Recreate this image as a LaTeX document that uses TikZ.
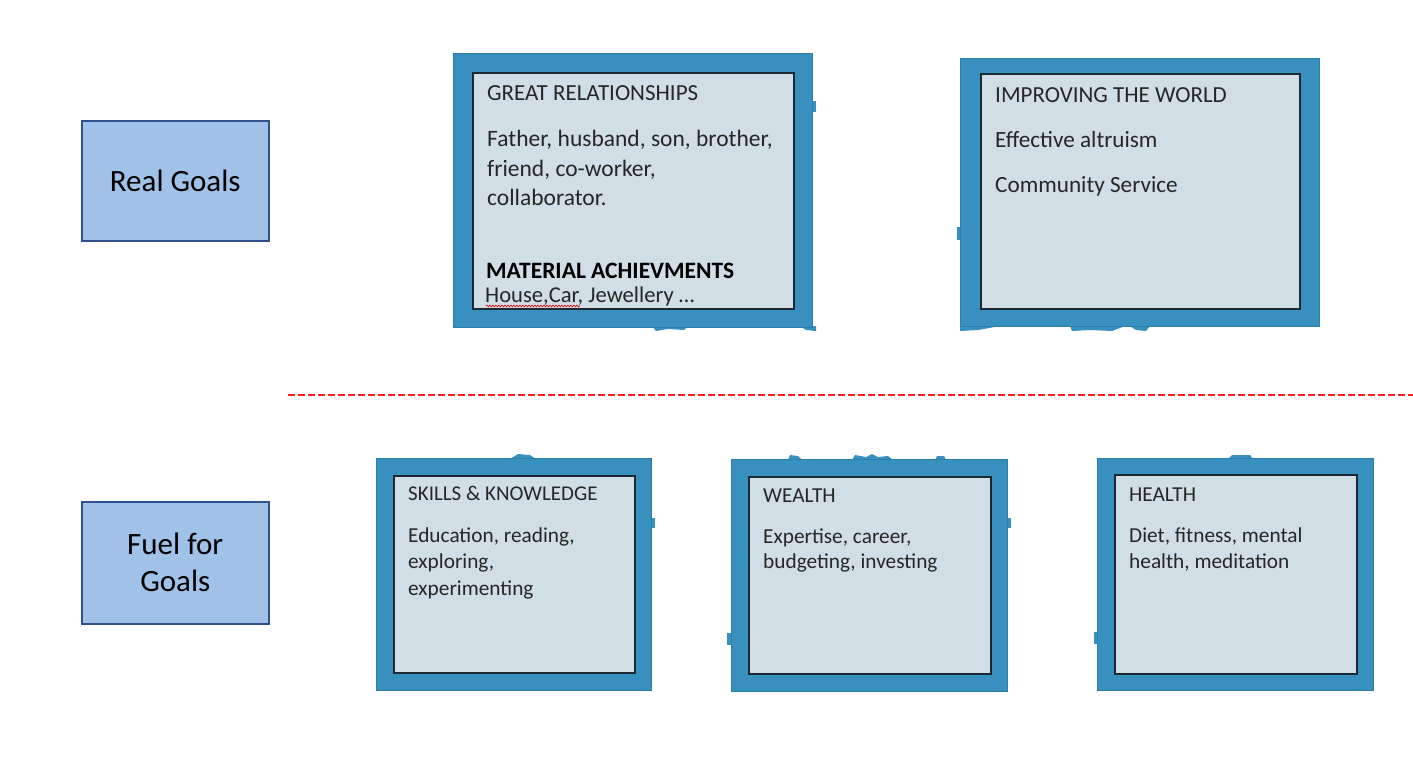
\documentclass[tikz,border=0pt]{standalone}
\usepackage{fontspec}
\setmainfont{Carlito}
\usetikzlibrary{decorations.pathmorphing}
\definecolor{frameblue}{RGB}{56,144,190}
\definecolor{frameedge}{RGB}{44,126,170}
\definecolor{panelgrey}{RGB}{210,222,230}
\definecolor{paneledge}{RGB}{28,40,52}
\definecolor{labelfill}{RGB}{160,194,232}
\definecolor{labeledge}{RGB}{47,82,143}
\definecolor{textgrey}{RGB}{38,38,38}
\definecolor{divider}{RGB}{250,30,30}
\tikzset{
  labelbox/.style={draw=labeledge, line width=1.5pt, fill=labelfill, anchor=north west,
    inner sep=0pt, align=center, font=\fontsize{31}{37}\selectfont, text=black},
  frame/.style={draw=frameedge, line width=1pt, fill=frameblue, anchor=north west, inner sep=0pt},
  panel/.style={draw=paneledge, line width=2pt, fill=panelgrey, anchor=north west, inner sep=0pt},
  stub/.style={fill=frameblue, draw=none},
  txt/.style={anchor=base west, inner sep=0pt, text=textgrey},
  bigtext/.style={txt, font=\fontsize{23.5}{28}\selectfont},
  smalltext/.style={txt, font=\fontsize{21.3}{26}\selectfont},
}
\begin{document}
\begin{tikzpicture}[x=1pt,y=-1pt]
\useasboundingbox (0,0) rectangle (1413,761);

% row labels
\node[labelbox, minimum width=187pt, minimum height=120pt] (real) at (81,120) {Real Goals};
\node[labelbox, minimum width=187pt, minimum height=122pt] (fuel) at (81,501) {Fuel for\\Goals};

% divider between goals and fuel
\draw[divider, line width=1.3pt, dash pattern=on 7pt off 3pt] (288,395) -- (1413,395);

% connector stubs peeking out from behind the frames
\fill[stub] (812,101) rectangle (816,112);
\fill[stub] (652,326) -- (688,326) -- (684,330) -- (668,329) -- (656,331) -- cycle;
\fill[stub] (800,326) -- (816,326) -- (816,331) -- (806,330) -- cycle;
\fill[stub] (957,227) rectangle (961,240);
\fill[stub] (960,326) -- (1000,326) -- (978,330) -- (960,331) -- cycle;
\fill[stub] (1070,326) -- (1150,326) -- (1146,331) -- (1136,330) -- (1128,325) -- (1112,331) -- (1090,330) -- (1072,331) -- cycle;
\fill[stub] (510,459) -- (536,459) -- (530,455) -- (518,454) -- cycle;
\fill[stub] (651,518) rectangle (655,528);
\fill[stub] (788,460) -- (802,460) -- (798,456) -- (790,455) -- cycle;
\fill[stub] (852,460) -- (893,460) -- (888,456) -- (878,457) -- (872,454) -- (866,457) -- (855,455) -- cycle;
\fill[stub] (935,460) -- (946,460) -- (944,456) -- (937,456) -- cycle;
\fill[stub] (1007,518) rectangle (1011,528);
\fill[stub] (727,633) rectangle (731,645);
\fill[stub] (1228,459) -- (1253,459) -- (1250,455) -- (1232,455) -- cycle;
\fill[stub] (1094,632) rectangle (1098,644);

% real goals
\node[frame, minimum width=359pt, minimum height=274pt] (relframe) at (453,53) {};
\node[panel, minimum width=321pt, minimum height=236pt] (rel) at (472,72) {};
\node[frame, minimum width=359pt, minimum height=268pt] (worldframe) at (960,58) {};
\node[panel, minimum width=319pt, minimum height=235pt] (world) at (980,73) {};

% fuel for goals
\node[frame, minimum width=275pt, minimum height=232pt] (skillframe) at (376,458) {};
\node[panel, minimum width=241pt, minimum height=197pt] (skill) at (393,475) {};
\node[frame, minimum width=276pt, minimum height=232pt] (wealthframe) at (731,459) {};
\node[panel, minimum width=242pt, minimum height=197pt] (wealth) at (748,476) {};
\node[frame, minimum width=276pt, minimum height=232pt] (healthframe) at (1097,458) {};
\node[panel, minimum width=242pt, minimum height=199pt] (health) at (1114,474) {};

% great relationships
\node[bigtext, font=\fontsize{23}{28}\selectfont] (relh) at (487,100) {GREAT RELATIONSHIPS};
\node[bigtext] (rel1) at (487,146) {Father, husband, son, brother,};
\node[bigtext] (rel2) at (487,176) {friend, co-worker,};
\node[bigtext] (rel3) at (487,205) {collaborator.};
\node[bigtext, font=\fontsize{23.5}{28}\selectfont\bfseries, text=black] (math) at (486,278) {MATERIAL ACHIEVMENTS};
\node[bigtext, font=\fontsize{22.6}{28}\selectfont] (matb) at (485,302) {House,Car, Jewellery \dots};
\draw[red!85!black, line width=0.6pt, decorate,
  decoration={snake, amplitude=0.9pt, segment length=3pt}]
  (matb.base west) ++(1,4) coordinate (sq1) -- ++(94,0) coordinate (sq2);

% improving the world
\node[bigtext, font=\fontsize{23}{28}\selectfont] (worldh) at (995,102) {IMPROVING THE WORLD};
\node[bigtext, font=\fontsize{23.2}{28}\selectfont] (world1) at (995,147) {Effective altruism};
\node[bigtext, font=\fontsize{23.2}{28}\selectfont] (world2) at (995,192) {Community Service};

% skills and knowledge
\node[smalltext, font=\fontsize{21}{26}\selectfont] (skillh) at (408,500) {SKILLS \& KNOWLEDGE};
\node[smalltext] (skill1) at (408,542) {Education, reading,};
\node[smalltext] (skill2) at (408,568) {exploring,};
\node[smalltext] (skill3) at (408,595) {experimenting};

% wealth
\node[smalltext] (wealthh) at (763,502) {WEALTH};
\node[smalltext] (wealth1) at (763,543) {Expertise, career,};
\node[smalltext] (wealth2) at (763,568) {budgeting, investing};

% health
\node[smalltext] (healthh) at (1129,501) {HEALTH};
\node[smalltext] (health1) at (1129,542) {Diet, fitness, mental};
\node[smalltext] (health2) at (1129,568) {health, meditation};
\end{tikzpicture}
\end{document}
